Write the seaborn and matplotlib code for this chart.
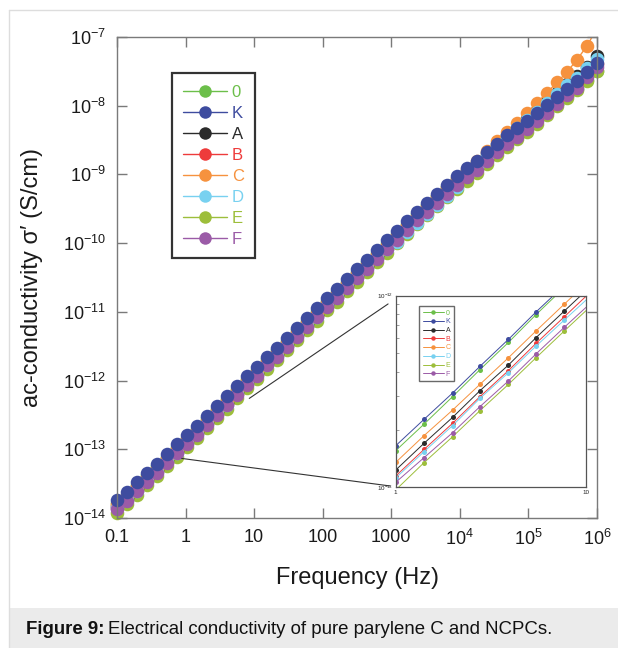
import numpy as np
import pandas as pd
import matplotlib
matplotlib.use("Agg")
import matplotlib.pyplot as plt
import seaborn as sns
from matplotlib.lines import Line2D
from matplotlib.patches import Rectangle, ConnectionPatch
from matplotlib.ticker import NullLocator, FixedLocator, NullFormatter

# ---------------- data ----------------
freq_hz = [0.1, 0.14, 0.196, 0.274, 0.383, 0.536, 0.750, 1.05, 1.47, 2.05,
           2.87, 4.02, 5.62, 7.87, 11.0, 15.4, 21.5, 30.1, 42.2, 59.0,
           82.5, 115, 162, 226, 316, 442, 619, 866, 1210, 1700,
           2370, 3320, 4640, 6490, 9090, 12700, 17800, 24900, 34800, 48700,
           68100, 95300, 133000, 187000, 261000, 365000, 511000, 715000, 1000000]

# log10 of ac-conductivity (S/cm)
log_sigma_0 = [-13.78, -13.66, -13.52, -13.38, -13.25, -13.11, -12.97, -12.83, -12.70, -12.55,
               -12.41, -12.27, -12.12, -11.97, -11.84, -11.69, -11.56, -11.42, -11.27, -11.13,
               -10.99, -10.84, -10.71, -10.56, -10.42, -10.28, -10.14, -10.00, -9.86, -9.72,
               -9.58, -9.45, -9.32, -9.19, -9.07, -8.95, -8.84, -8.74, -8.62, -8.51,
               -8.41, -8.31, -8.20, -8.09, -7.97, -7.86, -7.75, -7.63, -7.50]
log_sigma_K = [-13.74, -13.62, -13.48, -13.34, -13.21, -13.07, -12.93, -12.79, -12.66, -12.51,
               -12.37, -12.23, -12.08, -11.93, -11.80, -11.65, -11.52, -11.38, -11.23, -11.09,
               -10.95, -10.80, -10.67, -10.52, -10.38, -10.24, -10.10, -9.96, -9.82, -9.68,
               -9.54, -9.41, -9.28, -9.15, -9.03, -8.91, -8.80, -8.67, -8.55, -8.43,
               -8.33, -8.22, -8.11, -7.99, -7.87, -7.75, -7.64, -7.51, -7.38]
log_sigma_A = [-13.83, -13.71, -13.57, -13.43, -13.30, -13.16, -13.02, -12.88, -12.75, -12.60,
               -12.46, -12.32, -12.17, -12.02, -11.89, -11.74, -11.61, -11.47, -11.32, -11.18,
               -11.04, -10.89, -10.76, -10.61, -10.47, -10.33, -10.19, -10.05, -9.91, -9.77,
               -9.63, -9.49, -9.35, -9.21, -9.08, -8.95, -8.83, -8.69, -8.56, -8.43,
               -8.32, -8.20, -8.08, -7.95, -7.82, -7.69, -7.57, -7.43, -7.28]
log_sigma_B = [-13.85, -13.73, -13.59, -13.45, -13.32, -13.18, -13.04, -12.90, -12.77, -12.62,
               -12.48, -12.34, -12.19, -12.04, -11.91, -11.76, -11.63, -11.49, -11.34, -11.20,
               -11.06, -10.91, -10.78, -10.63, -10.49, -10.35, -10.21, -10.07, -9.93, -9.79,
               -9.65, -9.52, -9.39, -9.26, -9.14, -9.02, -8.91, -8.77, -8.64, -8.51,
               -8.40, -8.28, -8.16, -8.03, -7.90, -7.77, -7.66, -7.52, -7.39]
log_sigma_C = [-13.80, -13.68, -13.54, -13.40, -13.27, -13.13, -12.99, -12.85, -12.72, -12.57,
               -12.43, -12.29, -12.14, -11.99, -11.86, -11.71, -11.58, -11.44, -11.29, -11.15,
               -11.01, -10.86, -10.73, -10.58, -10.44, -10.30, -10.16, -10.02, -9.88, -9.74,
               -9.60, -9.46, -9.32, -9.18, -9.05, -8.92, -8.80, -8.66, -8.52, -8.38,
               -8.25, -8.10, -7.96, -7.81, -7.66, -7.51, -7.33, -7.13, -6.87]
log_sigma_D = [-13.86, -13.74, -13.60, -13.46, -13.33, -13.19, -13.05, -12.91, -12.78, -12.63,
               -12.49, -12.35, -12.20, -12.05, -11.92, -11.77, -11.64, -11.50, -11.35, -11.21,
               -11.07, -10.92, -10.79, -10.64, -10.50, -10.36, -10.22, -10.08, -9.98, -9.84,
               -9.70, -9.57, -9.44, -9.31, -9.19, -9.03, -8.89, -8.73, -8.59, -8.45,
               -8.33, -8.21, -8.09, -7.96, -7.83, -7.70, -7.59, -7.45, -7.32]
log_sigma_E = [-13.92, -13.80, -13.66, -13.52, -13.39, -13.25, -13.11, -12.97, -12.84, -12.69,
               -12.55, -12.41, -12.26, -12.11, -11.98, -11.83, -11.70, -11.56, -11.41, -11.27,
               -11.13, -10.98, -10.85, -10.70, -10.56, -10.42, -10.28, -10.14, -10.00, -9.86,
               -9.72, -9.59, -9.46, -9.33, -9.21, -9.09, -8.98, -8.85, -8.72, -8.60,
               -8.49, -8.38, -8.26, -8.14, -8.01, -7.89, -7.77, -7.64, -7.50]
log_sigma_F = [-13.87, -13.75, -13.61, -13.47, -13.34, -13.20, -13.06, -12.92, -12.79, -12.64,
               -12.50, -12.36, -12.21, -12.06, -11.93, -11.78, -11.65, -11.51, -11.36, -11.22,
               -11.08, -10.93, -10.80, -10.65, -10.51, -10.37, -10.23, -10.09, -9.95, -9.81,
               -9.67, -9.54, -9.41, -9.28, -9.16, -9.04, -8.93, -8.80, -8.68, -8.55,
               -8.45, -8.34, -8.22, -8.10, -7.97, -7.85, -7.74, -7.58, -7.43]

# inset (1-10 Hz zoom); last value is where each fitted line meets 10 Hz
inset_freq = [1, 1.41, 1.99, 2.77, 3.91, 5.46, 7.69, 10]
inset_log_0 = [-12.809, -12.670, -12.527, -12.386, -12.244, -12.099, -11.957, -11.85]
inset_log_K = [-12.783, -12.645, -12.508, -12.369, -12.228, -12.085, -11.946, -11.84]
inset_log_A = [-12.910, -12.770, -12.635, -12.496, -12.362, -12.219, -12.080, -11.974]
inset_log_B = [-12.941, -12.802, -12.666, -12.527, -12.391, -12.249, -12.110, -12.003]
inset_log_C = [-12.870, -12.730, -12.597, -12.463, -12.324, -12.184, -12.044, -11.937]
inset_log_D = [-12.951, -12.814, -12.678, -12.536, -12.402, -12.263, -12.127, -12.023]
inset_log_E = [-13.014, -12.871, -12.736, -12.600, -12.463, -12.324, -12.184, -12.078]
inset_log_F = [-12.974, -12.845, -12.715, -12.579, -12.445, -12.304, -12.165, -12.061]

series_names = ["0", "K", "A", "B", "C", "D", "E", "F"]
series_colors = ["#6cbf4a", "#3e4c9f", "#2b2b2b", "#ee3b3b", "#f6923e", "#78d1f0", "#9dbe3b", "#9b5ba7"]
draw_order = ["0", "E", "A", "B", "C", "D", "F", "K"]

x_tick_values = [0.1, 1, 10, 100, 1000, 1e4, 1e5, 1e6]
x_tick_labels = ["0.1", "1", "10", "100", "1000", r"$10^{4}$", r"$10^{5}$", r"$10^{6}$"]
y_tick_values = [1e-14, 1e-13, 1e-12, 1e-11, 1e-10, 1e-9, 1e-8, 1e-7]
y_tick_labels = [r"$10^{-14}$", r"$10^{-13}$", r"$10^{-12}$", r"$10^{-11}$",
                 r"$10^{-10}$", r"$10^{-9}$", r"$10^{-8}$", r"$10^{-7}$"]

# ---------------- tables ----------------
main_logs = dict(zip(series_names, [log_sigma_0, log_sigma_K, log_sigma_A, log_sigma_B,
                                    log_sigma_C, log_sigma_D, log_sigma_E, log_sigma_F]))
inset_logs = dict(zip(series_names, [inset_log_0, inset_log_K, inset_log_A, inset_log_B,
                                     inset_log_C, inset_log_D, inset_log_E, inset_log_F]))
color_of = dict(zip(series_names, series_colors))

df = pd.concat([pd.DataFrame({"freq": freq_hz, "sigma": 10.0 ** np.array(main_logs[n]), "series": n})
                for n in series_names], ignore_index=True)
dfi = pd.concat([pd.DataFrame({"freq": inset_freq, "sigma": 10.0 ** np.array(inset_logs[n]), "series": n})
                 for n in series_names], ignore_index=True)

# ---------------- style ----------------
sns.set_theme(style="ticks")
plt.rcParams["font.family"] = ["Liberation Sans", "DejaVu Sans"]
plt.rcParams["mathtext.fontset"] = "custom"
plt.rcParams["mathtext.rm"] = "Liberation Sans"
plt.rcParams["mathtext.it"] = "Liberation Sans:italic"
plt.rcParams["mathtext.bf"] = "Liberation Sans:bold"

W, H = 618, 648
fig = plt.figure(figsize=(W / 100, H / 100), dpi=100)
fig.patch.set_facecolor("white")

ax = fig.add_axes([117 / W, 1 - 518 / H, 480 / W, 481 / H])
ax.set_xscale("log")
ax.set_yscale("log")

for n in draw_order:
    sub = df[df["series"] == n]
    sns.lineplot(data=sub, x="freq", y="sigma", color=color_of[n], linewidth=1.0,
                 estimator=None, sort=False, legend=False, ax=ax, zorder=1.5)
for n in draw_order:
    sub = df[df["series"] == n]
    inside = sub[sub["sigma"] <= 1.0001e-7]
    sns.scatterplot(data=inside, x="freq", y="sigma", color=color_of[n], s=95,
                    linewidth=0, legend=False, ax=ax, clip_on=False, zorder=2)

ax.set_xlim(0.1, 1e6)
ax.set_ylim(1e-14, 1e-7)
ax.xaxis.set_major_locator(FixedLocator(x_tick_values))
ax.set_xticklabels(x_tick_labels)
ax.yaxis.set_major_locator(FixedLocator(y_tick_values))
ax.set_yticklabels(y_tick_labels)
ax.xaxis.set_minor_locator(NullLocator())
ax.yaxis.set_minor_locator(NullLocator())
ax.tick_params(which="major", direction="in", length=7, width=1, color="#7a7a7a",
               top=True, right=True, labelsize=13, pad=8, labelcolor="#1a1a1a")
for s in ax.spines.values():
    s.set_color("#7a7a7a")
    s.set_linewidth(1.0)

ax.set_xlabel("Frequency (Hz)", fontsize=17, color="#1a1a1a")
ax.set_ylabel("ac-conductivity σ′ (S/cm)", fontsize=17, color="#1a1a1a")
ax.xaxis.set_label_coords(0.5, -0.102)
ax.yaxis.set_label_coords(-0.155, 0.5)

handles = [Line2D([], [], color=color_of[n], marker="o", markersize=9, markeredgewidth=0, lw=1)
           for n in series_names]
leg = ax.legend(handles, series_names, loc="upper left", bbox_to_anchor=(0.114, 0.925),
                frameon=True, fancybox=False, edgecolor="black", fontsize=12,
                handlelength=2.6, labelspacing=0.36, borderpad=0.7, handletextpad=0.3,
                borderaxespad=0)
leg.get_frame().set_linewidth(1.6)
for t, n in zip(leg.get_texts(), series_names):
    t.set_color(color_of[n])

# ---------------- inset ----------------
axi = fig.add_axes([395.7 / W, 1 - 487.3 / H, 190.3 / W, 191.6 / H])
axi.set_xscale("log")
axi.set_yscale("log")
for n in draw_order:
    sub = dfi[dfi["series"] == n]
    sns.lineplot(data=sub, x="freq", y="sigma", color=color_of[n], linewidth=0.7,
                 marker="o", markersize=3.6, markeredgewidth=0, markevery=list(range(7)),
                 estimator=None, sort=False, legend=False, ax=axi)
axi.set_xlim(1, 10)
axi.set_ylim(1e-13, 1e-12)
axi.xaxis.set_major_locator(FixedLocator([1, 10]))
axi.set_xticklabels(["1", "10"])
axi.yaxis.set_major_locator(FixedLocator([1e-13, 1e-12]))
axi.set_yticklabels([r"$10^{-13}$", r"$10^{-12}$"])
axi.xaxis.set_minor_locator(NullLocator())
axi.yaxis.set_minor_locator(FixedLocator([k * 1e-13 for k in range(2, 10)]))
axi.yaxis.set_minor_formatter(NullFormatter())
axi.tick_params(which="major", length=0, labelsize=4.5, pad=2, labelcolor="#222")
axi.tick_params(axis="y", which="minor", direction="in", length=2.5, width=0.5, color="#777", left=True)
axi.set_xlabel("")
axi.set_ylabel("")
for s in axi.spines.values():
    s.set_color("#555555")
    s.set_linewidth(0.9)

ihandles = [Line2D([], [], color=color_of[n], marker="o", markersize=3.2, markeredgewidth=0, lw=0.7)
            for n in series_names]
ileg = axi.legend(ihandles, series_names, loc="upper left", bbox_to_anchor=(0.124, 0.946),
                  frameon=True, fancybox=False, edgecolor="#444", fontsize=5,
                  handlelength=3.0, labelspacing=0.25, borderpad=0.5, handletextpad=0.3,
                  borderaxespad=0)
ileg.get_frame().set_linewidth(1.0)
for t, n in zip(ileg.get_texts(), series_names):
    t.set_color(color_of[n])

# connector lines from the main curve to the inset
for (xa, ya), (xb, yb) in [((0.878, 7.36e-14), (-0.03, 0.007)),
                           ((8.49, 5.5e-13), (-0.04, 0.957))]:
    con = ConnectionPatch(xyA=(xa, ya), coordsA=ax.transData,
                          xyB=(xb, yb), coordsB=axi.transAxes,
                          color="#333333", lw=0.8)
    fig.add_artist(con)

# ---------------- page decoration & caption ----------------
fig.add_artist(Line2D([8.5 / W, 8.5 / W], [0, 1 - 10 / H], transform=fig.transFigure,
                      color="#dddddd", lw=1))
fig.add_artist(Line2D([8.5 / W, 1], [1 - 10 / H, 1 - 10 / H], transform=fig.transFigure,
                      color="#dddddd", lw=1))
fig.add_artist(Rectangle((9 / W, 0), 1 - 9 / W, 40 / H, transform=fig.transFigure,
                         facecolor="#ebebeb", edgecolor="none"))
t1 = fig.text(26 / W, 19 / H, "Figure 9:", fontsize=13.4, fontweight="bold", va="center", color="#111")
fig.canvas.draw()
bb = t1.get_window_extent()
fig.text(bb.x1 / W + 4 / W, 19 / H, "Electrical conductivity of pure parylene C and NCPCs.",
         fontsize=13.4, va="center", color="#111")

fig.savefig("out.png", dpi=100)
